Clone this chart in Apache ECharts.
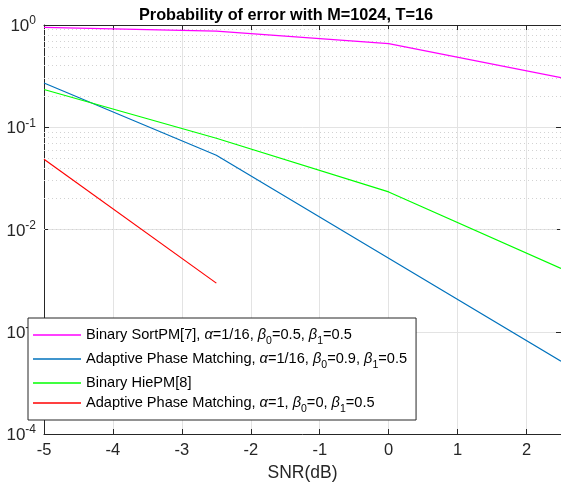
<!DOCTYPE html>
<html>
<head>
<meta charset="utf-8">
<script src="https://cdn.jsdelivr.net/npm/echarts@6/dist/echarts.min.js"></script>
<style>
html,body{margin:0;padding:0;background:#fff;}
#c{width:561px;height:489px;}
</style>
</head>
<body>
<div id="c"></div>
<script>
// ---- data ----
var snr = [-5, -2.5, 0, 2.5];
var sortPM = [0.95, 0.873, 0.658, 0.306];
var apmAlpha16 = [0.271, 0.0532, 0.00524, 0.000516];
var hiePM = [0.234, 0.078, 0.0233, 0.00416];
var apmAlpha1 = [0.0487, 0.00299];
var xTicks = [-5, -4, -3, -2, -1, 0, 1, 2];
var seriesKeys = ['sortpm', 'apm16', 'hiepm', 'apm1'];
var seriesLabels = [
  'Binary SortPM[7], {g|α}=1/16, {g|β}{s|0}=0.5, {g|β}{s|1}=0.5',
  'Adaptive Phase Matching, {g|α}=1/16, {g|β}{s|0}=0.9, {g|β}{s|1}=0.5',
  'Binary HiePM[8]',
  'Adaptive Phase Matching, {g|α}=1, {g|β}{s|0}=0, {g|β}{s|1}=0.5'
];
var colors = ['#ff00ff', '#0072bd', '#00ff00', '#ff0000'];

function pairs(xs, ys) { return ys.map(function (v, i) { return [xs[i], v]; }); }

var minorVals = [];
for (var k = -4; k < 0; k++) {
  for (var m = 2; m <= 9; m++) minorVals.push({ yAxis: m * Math.pow(10, k) });
}

var FONT = 'Liberation Sans';
var chart = echarts.init(document.getElementById('c'));

var dataSets = [sortPM, apmAlpha16, hiePM, apmAlpha1];
var series = dataSets.map(function (d, i) {
  return {
    name: seriesKeys[i],
    type: 'line',
    data: pairs(snr, d),
    symbol: 'none',
    showSymbol: false,
    color: colors[i],
    lineStyle: { width: 1.2, color: colors[i] },
    z: 5,
    animation: false
  };
});
series.push({
  type: 'line', data: [], silent: true, animation: false,
  markLine: {
    silent: true, symbol: 'none', label: { show: false },
    lineStyle: { color: '#d2d2d2', width: 1, type: [1, 3] },
    data: minorVals, animation: false
  }
});

chart.setOption({
  animation: false,
  title: {
    text: 'Probability of error with M=1024, T=16',
    left: 281, top: 3, textAlign: 'center',
    textStyle: { fontFamily: FONT, fontSize: 16.3, fontWeight: 'bold', color: '#000' }
  },
  grid: { left: 44, top: 25, width: 519.5, height: 409 },
  legend: {
    orient: 'vertical',
    left: 28, top: 318,
    icon: 'rect',
    itemWidth: 48, itemHeight: 1.3, itemGap: 4,
    padding: [9, 9, 5, 5],
    backgroundColor: '#fff',
    borderColor: '#262626', borderWidth: 1,
    data: seriesKeys,
    formatter: function (name) { return seriesLabels[seriesKeys.indexOf(name)]; },
    textStyle: {
      fontFamily: FONT, fontSize: 14.6, color: '#000', lineHeight: 16,
      rich: {
        g: { fontFamily: FONT, fontSize: 14.6, fontStyle: 'italic', color: '#000', lineHeight: 16 },
        s: { fontFamily: FONT, fontSize: 10.5, color: '#000', verticalAlign: 'bottom', lineHeight: 10, padding: [0, 0, -4, 0] }
      }
    }
  },
  xAxis: [{
    type: 'value', min: -5, max: 2.5, interval: 1,
    name: 'SNR(dB)', nameLocation: 'middle', nameGap: 30,
    nameTextStyle: { fontFamily: FONT, fontSize: 17.5, color: '#262626' },
    axisLine: { onZero: false, lineStyle: { color: '#262626', width: 1 } },
    axisTick: { inside: true, length: 5, lineStyle: { color: '#262626' } },
    axisLabel: {
      fontFamily: FONT, fontSize: 16.5, color: '#262626', margin: 8,
      showMaxLabel: false,
      formatter: function (v) { return xTicks.indexOf(v) >= 0 ? String(v) : ''; }
    },
    splitLine: { show: true, lineStyle: { color: '#e3e3e3', width: 1 } }
  }, {
    type: 'value', min: -5, max: 2.5, interval: 1, position: 'top',
    axisLine: { show: true, onZero: false, lineStyle: { color: '#262626', width: 1 } },
    axisTick: { inside: true, length: 5, lineStyle: { color: '#262626' } },
    axisLabel: { show: false }, splitLine: { show: false }
  }],
  yAxis: [{
    type: 'log', logBase: 10, min: 0.0001, max: 1, position: 'left',
    axisLine: { show: true, onZero: false, lineStyle: { color: '#262626', width: 1 } },
    axisTick: { show: true, inside: true, length: 5, lineStyle: { color: '#262626' } },
    axisLabel: {
      margin: 8, color: '#262626',
      formatter: function (v) {
        var e = Math.round(Math.log(v) / Math.LN10);
        return '{b|10}{e|' + e + '}';
      },
      rich: {
        b: { fontFamily: FONT, fontSize: 17, color: '#262626', lineHeight: 20, verticalAlign: 'bottom' },
        e: { fontFamily: FONT, fontSize: 12, color: '#262626', lineHeight: 20, verticalAlign: 'top' }
      }
    },
    splitLine: { show: true, lineStyle: { color: '#e3e3e3', width: 1 } }
  }, {
    type: 'log', logBase: 10, min: 0.0001, max: 1, position: 'right',
    axisLine: { show: true, onZero: false, lineStyle: { color: '#262626', width: 1 } },
    axisTick: { show: true, inside: true, length: 5, lineStyle: { color: '#262626' } },
    axisLabel: { show: false }, splitLine: { show: false }
  }],
  series: series
});
</script>
</body>
</html>
